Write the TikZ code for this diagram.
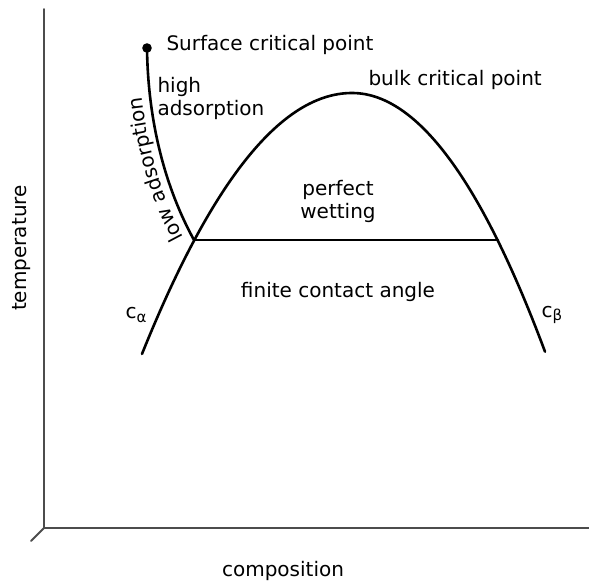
\documentclass[tikz,border=0pt]{standalone}
\usepackage{fontspec}
\setmainfont{DejaVu Sans}
\usetikzlibrary{decorations.text}
\newcommand\lblfont{\fontsize{20}{23}\selectfont}
\newcommand\subfont{\fontsize{15}{15}\selectfont}

\begin{document}
\begin{tikzpicture}[x=1pt, y=1pt, line cap=round, every node/.style={font=\lblfont},
  curve/.style={line width=2.6pt}, axis/.style={line width=1.8pt, black!70}]

\useasboundingbox (0,0) rectangle (589,584);

% Axes
\coordinate (o) at (44,56);
\coordinate (ytop) at (44,575);
\coordinate (xend) at (589,56);
\coordinate (tick) at (31,43);
\draw[axis] (ytop) -- (o) -- (xend);
\draw[axis] (o) -- (tick);
\node[rotate=90] (temp) at (22,336) {temperature};
\node (comp) at (283,13) {composition};

% Coexistence curve (left and right branch)
\coordinate (tl) at (194,344);
\coordinate (tr) at (498,344);
\draw[curve] plot[domain=-210:0, samples=60] ({352+\x}, {491-(\x/13)^2})
  -- plot[domain=0:193, samples=60] ({352+\x}, {491-(\x/12)^2});

% Wetting line
\draw[curve] (tl) -- (tr);

% Surface line
\coordinate (scp) at (147,536);
\draw[curve] (scp) .. controls (148,460) and (166,395) .. (tl);
\fill (scp) circle (4.8);
\path[decorate, decoration={text along path, text={|\lblfont|low adsorption}}]
  (184,347) .. controls (157,397) and (140,460) .. (139,536);

% Labels
\node[anchor=west] (scplbl) at (163,539) {Surface critical point};
\node[anchor=west] (bulk) at (365,504) {bulk critical point};
\node[anchor=west, align=left] (high) at (154,486) {high\\adsorption};
\node[align=center] (wet) at (338,383) {perfect\\wetting};
\node (finite) at (338,292) {finite contact angle};
\node (calpha) at (136,269) {c\raisebox{-0.35ex}{\subfont α}};
\node (cbeta) at (552,269) {c\raisebox{-0.35ex}{\subfont β}};

\end{tikzpicture}
\end{document}
